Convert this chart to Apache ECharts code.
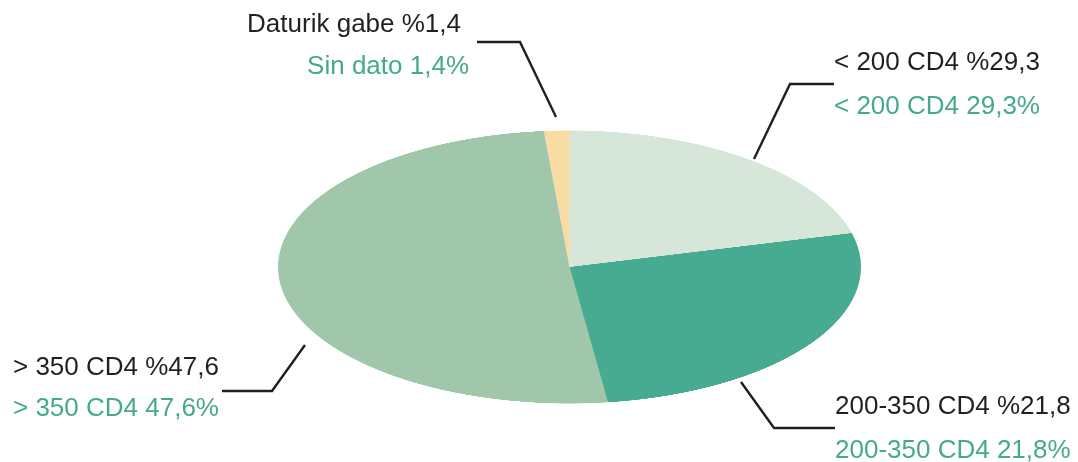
<!DOCTYPE html>
<html>
<head>
<meta charset="utf-8">
<script src="https://cdn.jsdelivr.net/npm/echarts@6/dist/echarts.min.js"></script>
<style>
  html, body { margin: 0; padding: 0; background: #fff; }
  #wrap { position: relative; width: 1078px; height: 462px; overflow: hidden; }
  /* the pie is drawn round and squashed into the ellipse of the original */
  #pie { position: absolute; left: 0; top: -33.5px; width: 1078px; height: 600px;
         transform: scaleY(0.4683); transform-origin: 50% 50%; }
  #labels { position: absolute; left: 0; top: 0; width: 1078px; height: 462px; }
</style>
</head>
<body>
<div id="wrap">
  <div id="pie"></div>
  <div id="labels"></div>
</div>
<script>
const categories = ["< 200 CD4", "200-350 CD4", "> 350 CD4", "Sin dato"];
const basqueNames = ["< 200 CD4", "200-350 CD4", "> 350 CD4", "Daturik gabe"];
const printedPct = ["29,3", "21,8", "47,6", "1,4"];
// slice shares as they are drawn in the picture (the printed labels differ)
const sliceShare = [21.0, 26.9, 50.7, 1.4];
const colors = ["#d6e6d8", "#47ab91", "#a1c7aa", "#f9dca4"];

// label placement: leader line, then black (Basque) and green (Spanish) lines
const labelLayout = [
  { line: [[754, 159], [790, 84], [834, 84]], x: 834, align: "left", y1: 63, y2: 107, x2: 834 },
  { line: [[741, 382], [774, 428], [835, 428]], x: 835, align: "left", y1: 407, y2: 451, x2: 835 },
  { line: [[305, 345], [272, 391], [222, 391]], x: 13, align: "left", y1: 368, y2: 409, x2: 13 },
  { line: [[556, 117], [520, 42], [477, 42]], x: 461, align: "right", y1: 25, y2: 67, x2: 469 },
];

const pieChart = echarts.init(document.getElementById("pie"), null, { devicePixelRatio: 2 });
pieChart.setOption({
  animation: false,
  series: [
    {
      type: "pie",
      center: [569.5, 300],
      radius: 291.5,
      startAngle: 90,
      clockwise: true,
      silent: true,
      label: { show: false },
      labelLine: { show: false },
      itemStyle: { borderWidth: 0 },
      data: categories.map((name, i) => ({
        name: name,
        value: sliceShare[i],
        itemStyle: { color: colors[i] },
      })),
    },
  ],
});

const font = '26px "Liberation Sans", Arial, sans-serif';
const elements = [];
labelLayout.forEach((l, i) => {
  elements.push({
    type: "polyline",
    shape: { points: l.line },
    style: { stroke: "#231f20", lineWidth: 2.4, fill: null },
    silent: true,
  });
  elements.push({
    type: "text",
    x: l.x,
    y: l.y1,
    style: {
      text: basqueNames[i] + " %" + printedPct[i],
      font: font,
      fill: "#231f20",
      align: l.align,
      textAlign: l.align,
      verticalAlign: "middle",
      textVerticalAlign: "middle",
    },
    silent: true,
  });
  elements.push({
    type: "text",
    x: l.x2,
    y: l.y2,
    style: {
      text: categories[i] + " " + printedPct[i] + "%",
      font: font,
      fill: "#45a98d",
      align: l.align,
      textAlign: l.align,
      verticalAlign: "middle",
      textVerticalAlign: "middle",
    },
    silent: true,
  });
});

const labelChart = echarts.init(document.getElementById("labels"));
labelChart.setOption({
  animation: false,
  graphic: { elements: elements },
});
</script>
</body>
</html>
